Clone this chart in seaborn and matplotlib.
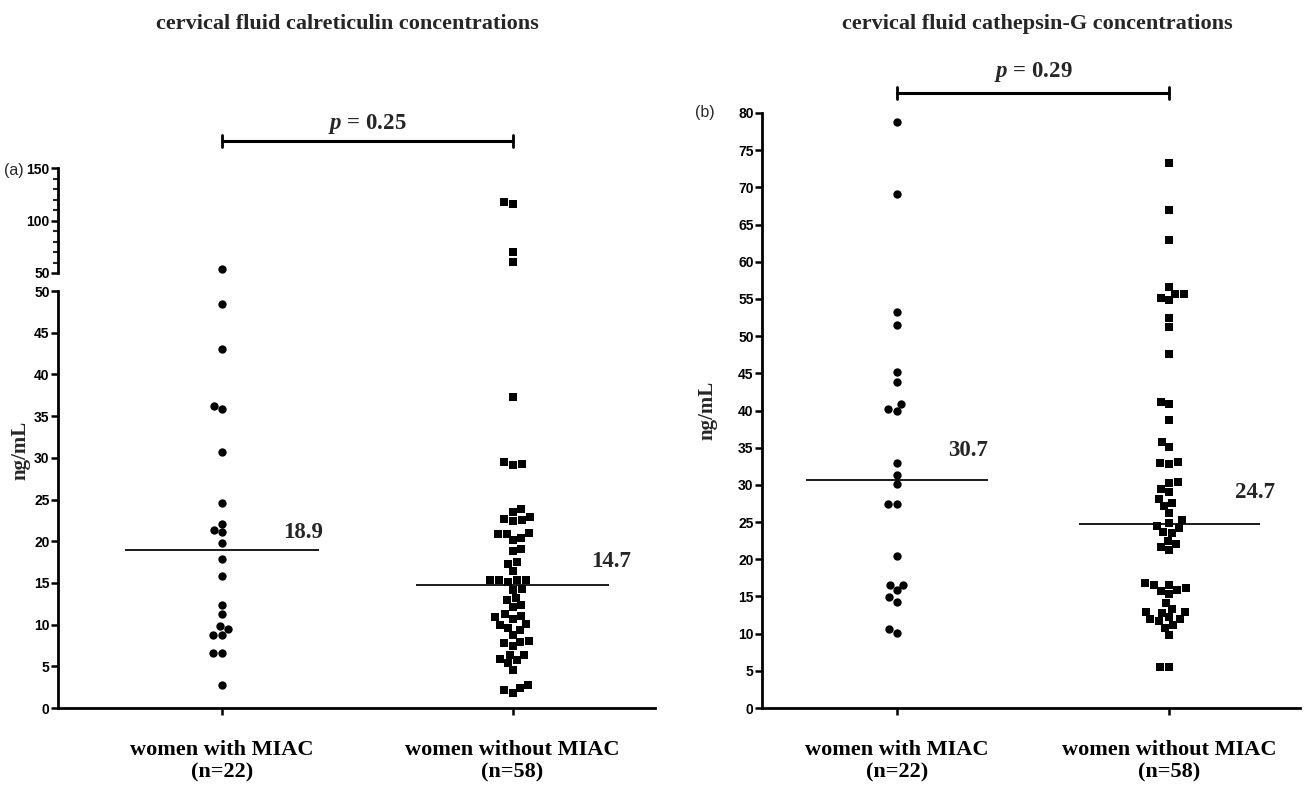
import matplotlib
matplotlib.use("Agg")
import matplotlib.pyplot as plt
import matplotlib.transforms as mtransforms
from matplotlib.ticker import MultipleLocator
import numpy as np
import pandas as pd
import seaborn as sns

# ---------------- data ----------------
groups = ["women with MIAC\n(n=22)", "women without MIAC\n(n=58)"]

calr_miac = [54.0, 48.4, 43.1, 36.2, 35.8, 30.7, 24.6, 22.1, 21.4, 21.1, 19.8,
             17.9, 15.8, 12.3, 11.3, 9.8, 9.5, 8.8, 8.8, 6.6, 6.6, 2.8]
calr_nomiac = [117.5, 116.0, 70.0, 60.5, 37.3, 29.5, 29.2, 29.1, 23.9, 23.5,
               22.9, 22.7, 22.5, 22.4, 21.0, 20.9, 20.9, 20.4, 20.1, 19.1, 18.8,
               17.5, 17.3, 16.4, 15.4, 15.4, 15.4, 15.4, 15.1, 14.3, 14.2, 13.2,
               12.9, 12.4, 12.1, 11.3, 11.0, 10.9, 10.7, 10.1, 10.0, 9.6, 9.3,
               8.7, 8.0, 7.9, 7.8, 7.4, 6.4, 6.3, 5.9, 5.7, 5.4, 4.5, 2.8, 2.4,
               2.2, 1.8]
calr_medians = [18.9, 14.7]
calr_p = "0.25"

catg_miac = [78.8, 69.1, 53.2, 51.5, 45.2, 43.8, 40.9, 40.2, 39.9, 33.0, 31.3,
             30.1, 27.4, 27.4, 20.4, 16.6, 16.5, 15.8, 14.9, 14.3, 10.6, 10.1]
catg_nomiac = [73.3, 67.0, 62.9, 56.6, 55.7, 55.7, 55.1, 54.8, 52.4, 51.2, 47.6,
               41.2, 40.9, 38.7, 35.8, 35.1, 33.1, 33.0, 32.8, 30.4, 30.3, 29.4,
               29.1, 28.1, 27.6, 27.1, 26.2, 25.3, 24.9, 24.5, 24.2, 23.7, 23.5,
               22.5, 22.0, 21.7, 21.2, 16.8, 16.5, 16.5, 16.1, 15.9, 15.7, 15.3,
               14.1, 13.3, 12.9, 12.9, 12.8, 12.2, 11.9, 11.9, 11.7, 11.1, 10.8,
               9.8, 5.5, 5.5]
catg_medians = [30.7, 24.7]
catg_p = "0.29"

titles = ["cervical fluid calreticulin concentrations",
          "cervical fluid cathepsin-G concentrations"]
ylabel = "ng/mL"

# ---------------- style ----------------
sns.set_style("ticks")
plt.rcParams["font.family"] = ["Liberation Sans", "DejaVu Sans"]
plt.rcParams["mathtext.fontset"] = "custom"
plt.rcParams["mathtext.it"] = "Liberation Serif:italic:bold"
plt.rcParams["mathtext.rm"] = "Liberation Serif:bold"
SERIF = ["Liberation Serif", "DejaVu Serif"]
TICKFONT, TICKSIZE = ["Liberation Sans", "DejaVu Sans"], 10

W, H = 1314, 794
fig = plt.figure(figsize=(W / 100, H / 100), dpi=100)


def fx(px):
    return px / W


def fy(py):
    return 1 - py / H


def make_df(a, b):
    return pd.DataFrame({
        "group": [groups[0]] * len(a) + [groups[1]] * len(b),
        "value": list(a) + list(b),
    })


def swarm(ax, df):
    for g, m, s in [(groups[0], "o", 6.0), (groups[1], "s", 6.2)]:
        sub = df[df.group == g]
        if len(sub):
            sns.swarmplot(data=sub, x="group", y="value", order=groups, ax=ax,
                          color="black", marker=m, size=s, linewidth=0)


def style_axis(ax, ymax, major, minor=None):
    ax.set_ylim(0 if ymax <= 80 else 50, ymax)
    for sp in ["top", "right"]:
        ax.spines[sp].set_visible(False)
    for sp in ["left", "bottom"]:
        ax.spines[sp].set_linewidth(2.0)
        ax.spines[sp].set_color("black")
    ax.yaxis.set_major_locator(MultipleLocator(major))
    if minor:
        ax.yaxis.set_minor_locator(MultipleLocator(minor))
    ax.tick_params(axis="y", which="major", length=5, width=1.8, pad=1,
                   labelsize=TICKSIZE, colors="black")
    ax.tick_params(axis="y", which="minor", length=3.5, width=1.5)
    for t in ax.get_yticklabels():
        t.set_fontweight("bold")
        t.set_fontfamily(TICKFONT)
    ax.set_xlabel("")
    ax.set_ylabel("")


def style_x(ax, xlim):
    ax.set_xlim(*xlim)
    ax.tick_params(axis="x", length=5, width=1.8, pad=18, colors="black")
    for t in ax.get_xticklabels():
        t.set_fontfamily(SERIF)
        t.set_fontweight("bold")
        t.set_fontsize(16)
        t.set_linespacing(1.15)


def medians(ax, meds, text_dx, text_dy):
    for i, m in enumerate(meds):
        ax.hlines(m, i - 0.333, i + 0.333, color="#1a1a1a", lw=1.4, zorder=1)
        ax.text(i + text_dx[i], m + text_dy[i], f"{m}", family=SERIF,
                fontweight="bold", fontsize=16.5, ha="left", va="baseline")


def bracket(ax, ytxt, ybar, ptxt):
    tr = mtransforms.blended_transform_factory(ax.transData, fig.transFigure)
    ax.plot([0, 1], [fy(ybar), fy(ybar)], color="black", lw=2.2,
            transform=tr, clip_on=False)
    for x in (0, 1):
        ax.plot([x, x], [fy(ybar - 6), fy(ybar + 6)], color="black", lw=2.0,
                transform=tr, clip_on=False)
    ax.text(0.5, fy(ytxt), rf"$p$ = {ptxt}", transform=tr, ha="center",
            va="center", family=SERIF, fontweight="bold", fontsize=16.5)


# ---------------- panel (a): broken axis ----------------
xlim_a = (-0.564, 1.49)
axL = fig.add_axes([fx(58), fy(708), fx(655 - 58), (708 - 291) / H])
axU = fig.add_axes([fx(58), fy(273), fx(655 - 58), (273 - 168) / H],
                   sharex=axL)

df_a = make_df(calr_miac, calr_nomiac)
swarm(axL, df_a[df_a.value <= 50])
swarm(axU, df_a[df_a.value > 50])

style_axis(axL, 50, 5)
style_axis(axU, 150, 50, 10)
axU.spines["bottom"].set_visible(False)
axU.tick_params(axis="x", bottom=False, labelbottom=False)
style_x(axL, xlim_a)
medians(axL, calr_medians, [0.21, 0.27], [1.5, 2.2])
bracket(axU, 124, 141, calr_p)

fig.text(fx(4), fy(171), "(a)", fontsize=11.5, va="center", ha="left")
fig.text(fx(20), fy(450), ylabel, rotation=90, family=SERIF,
         fontweight="bold", fontsize=15, va="center", ha="center")
fig.text(fx(347), fy(24), titles[0], family=SERIF, fontweight="bold",
         fontsize=16, ha="center", va="center")

# ---------------- panel (b) ----------------
xlim_b = (-0.495, 1.48)
axR = fig.add_axes([fx(762), fy(708), fx(1300 - 762), (708 - 113) / H])
df_b = make_df(catg_miac, catg_nomiac)
swarm(axR, df_b)
style_axis(axR, 80, 5)
style_x(axR, xlim_b)
medians(axR, catg_medians, [0.19, 0.24], [3.2, 3.5])
bracket(axR, 72, 93, catg_p)

fig.text(fx(695), fy(113), "(b)", fontsize=11.5, va="center", ha="left")
fig.text(fx(707), fy(410), ylabel, rotation=90, family=SERIF,
         fontweight="bold", fontsize=15, va="center", ha="center")
fig.text(fx(1037), fy(24), titles[1], family=SERIF, fontweight="bold",
         fontsize=16, ha="center", va="center")

fig.savefig("out.png", dpi=100, facecolor="white")
